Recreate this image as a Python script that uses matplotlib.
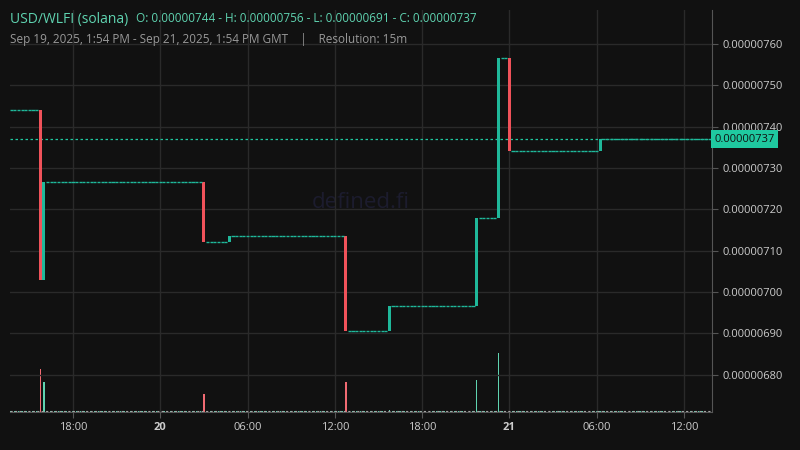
import numpy as np
import pandas as pd
import matplotlib
matplotlib.use("Agg")
import matplotlib.pyplot as plt
import matplotlib.dates as mdates

plt.rcParams['font.family'] = ['Open Sans', 'DejaVu Sans']

# prices in units of 1e-9 (x 0.000000001)
start_close = 7440
# candle time -> close price (all other candles are flat)
moves = {
    "2025-09-19 15:45": 7030,
    "2025-09-19 16:00": 7265,
    "2025-09-20 03:00": 7122,
    "2025-09-20 04:45": 7135,
    "2025-09-20 12:45": 6905,
    "2025-09-20 15:45": 6966,
    "2025-09-20 21:45": 7178,
    "2025-09-20 23:15": 7565,
    "2025-09-21 00:00": 7341,
    "2025-09-21 06:15": 7370,
}
vol_moves = {
    "2025-09-19 15:45": 43,
    "2025-09-19 16:00": 30,
    "2025-09-20 03:00": 18,
    "2025-09-20 12:45": 30,
    "2025-09-20 15:45": 2,
    "2025-09-20 21:45": 32,
    "2025-09-20 23:15": 59,
    "2025-09-21 00:00": 33,
}
last_price = 7370
yticks = [6800, 6900, 7000, 7100, 7200, 7300, 7400, 7500, 7600]

times = pd.date_range("2025-09-19 13:45", "2025-09-21 13:45", freq="15min")
opens, closes, vols = [], [], []
c = start_close
for t in times:
    key = t.strftime("%Y-%m-%d %H:%M")
    o = c
    c = moves.get(key, c)
    opens.append(o)
    closes.append(c)
    vols.append(vol_moves.get(key, 0.6))
opens = np.array(opens); closes = np.array(closes); vols = np.array(vols)

bg = "#111111"
red = "#f0525a"
green = "#1fb89a"
fig = plt.figure(figsize=(8, 4.5), dpi=100, facecolor=bg)
ax = fig.add_axes([10/800, 38/450, 702/800, 402/450], facecolor=bg)
vax = ax.twinx()

xd = mdates.date2num(times)
w = 15/1440*0.85
up = closes >= opens
cols = np.where(up, green, red)
lo = np.minimum(opens, closes); hi = np.maximum(opens, closes)
flat = hi - lo < 1
ax.bar(xd[~flat], (hi - lo)[~flat], bottom=lo[~flat], width=w, color=cols[~flat], zorder=3)
ax.hlines(closes[flat], xd[flat] - w/2, xd[flat] + w/2, color=green, lw=1, zorder=3)

ax.axhline(last_price, color="#1fc9a0", ls=(0, (2, 2)), lw=0.9, zorder=2)
ax.set_xlim(mdates.date2num(pd.Timestamp("2025-09-19 13:40")), mdates.date2num(pd.Timestamp("2025-09-21 13:56")))
ax.set_ylim(6710, 7682)
ax.set_yticks(yticks)
ax.set_yticklabels([f"{v*1e-9:.8f}" for v in yticks])
xt = pd.to_datetime(["2025-09-19 18:00", "2025-09-20 00:00", "2025-09-20 06:00", "2025-09-20 12:00",
                     "2025-09-20 18:00", "2025-09-21 00:00", "2025-09-21 06:00", "2025-09-21 12:00"])
ax.set_xticks(mdates.date2num(xt))
ax.set_xticklabels(["18:00", "20", "06:00", "12:00", "18:00", "21", "06:00", "12:00"])
for lab in ax.get_xticklabels():
    if lab.get_text() in ("20", "21"):
        lab.set_fontweight("bold")
ax.tick_params(axis="x", colors="#555555", labelcolor="#cccccc", labelsize=8, length=4)
ax.tick_params(axis="y", colors="#555555", labelcolor="#cccccc", labelsize=8, length=4,
               left=False, labelleft=False, right=True, labelright=True)
ax.grid(True, color="#2a2a2a", lw=1)
for s in ["top", "left"]:
    ax.spines[s].set_visible(False)
ax.spines["bottom"].set_color("#555555")
ax.spines["right"].set_color("#555555")

vax.set_ylim(0, 59*6.8)
vax.bar(xd, vols, width=w*0.5, color=np.where(up, "#5fd3b0", "#f06a72"), zorder=1)
vax.set_yticks([])
for s in vax.spines.values():
    s.set_visible(False)
ax.set_zorder(vax.get_zorder() + 1)
ax.patch.set_visible(False)
vax.patch.set_visible(False)
ax.axhline(6712, color="#aaaaaa", ls=(0, (2, 2)), lw=0.8)

ax.text(0.5, 0.52, "defined.fi", transform=ax.transAxes, color="#1c1c2e", fontsize=16,
        ha="center", va="center", zorder=0)
ax.text(1.003, (last_price - 6710) / (7682 - 6710), f"{last_price*1e-9:.8f}", transform=ax.transAxes,
        color="#111111", fontsize=8, va="center", ha="left",
        bbox=dict(boxstyle="square,pad=0.3", fc="#1fc9a0", ec="none"))
fig.text(10/800, 1 - 19/450, "USD/WLFI (solana)", color="#5fd3b0", fontsize=10, va="center")
fig.text(136/800, 1 - 19/450, "O: 0.00000744 - H: 0.00000756 - L: 0.00000691 - C: 0.00000737",
         color="#5fd3b0", fontsize=8.5, va="center")
fig.text(10/800, 1 - 40/450, "Sep 19, 2025, 1:54 PM - Sep 21, 2025, 1:54 PM GMT    |    Resolution: 15m",
         color="#999999", fontsize=8.5, va="center")
fig.savefig("out.png", facecolor=bg)
